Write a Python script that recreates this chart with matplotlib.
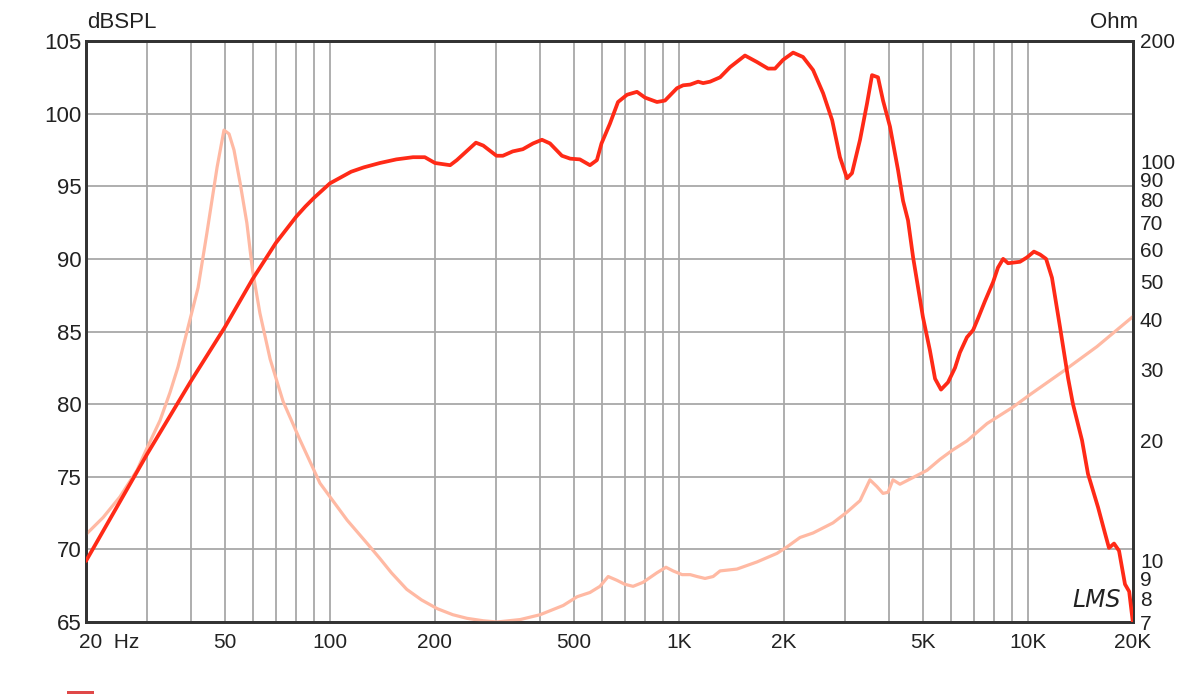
import matplotlib
matplotlib.use('Agg', force=True)
import matplotlib.pyplot as plt
from matplotlib.patches import Rectangle

plt.rcParams['font.family'] = ['Liberation Sans', 'DejaVu Sans']

# SPL response (Hz, dB)
spl_freq = [20, 30, 40, 50, 60, 70, 80, 85, 90, 100, 115, 125, 139, 155, 173, 187, 200, 221,
            231, 262, 275, 300, 313, 334, 357, 382, 405, 427, 462, 488, 520, 556, 582, 600,
            634, 669, 710, 758, 800, 865, 912, 987, 1028, 1077, 1135, 1173, 1228, 1312, 1401,
            1546, 1674, 1800, 1885, 1987, 2124, 2267, 2423, 2589, 2748, 2893, 3031, 3132,
            3303, 3459, 3575, 3718, 3844, 4025, 4245, 4386, 4533, 4688, 5001, 5237, 5418,
            5635, 5901, 6181, 6383, 6686, 6966, 7194, 7534, 7946, 8206, 8490, 8771, 9488,
            9936, 10403, 10833, 11272, 11718, 12357, 13030, 13460, 14290, 14860, 15880, 16630,
            17070, 17650, 18240, 18970, 19500, 20000]
spl_db = [69.2, 76.6, 81.6, 85.3, 88.6, 91.1, 92.9, 93.6, 94.2, 95.2, 96.0, 96.3, 96.6, 96.85,
          97.0, 97.0, 96.6, 96.45, 96.8, 98.0, 97.8, 97.1, 97.1, 97.4, 97.55, 97.95, 98.2,
          97.95, 97.1, 96.9, 96.85, 96.45, 96.8, 97.95, 99.3, 100.8, 101.3, 101.5, 101.1,
          100.8, 100.9, 101.75, 101.95, 102.0, 102.2, 102.1, 102.2, 102.5, 103.2, 104.0,
          103.55, 103.1, 103.1, 103.7, 104.2, 103.9, 103.0, 101.4, 99.55, 97.0, 95.55, 95.9,
          98.2, 100.7, 102.65, 102.5, 100.9, 99.1, 96.1, 94.0, 92.65, 90.1, 86.0, 83.7, 81.75,
          81.0, 81.5, 82.5, 83.55, 84.6, 85.1, 85.9, 87.1, 88.4, 89.4, 90.0, 89.7, 89.8, 90.1,
          90.5, 90.3, 90.0, 88.7, 85.3, 81.8, 80.0, 77.5, 75.2, 72.9, 71.1, 70.1, 70.4, 69.9,
          67.6, 67.1, 64.9]

# impedance (Hz, Ohm)
imp_freq = [20, 22.4, 25.0, 28.0, 30, 32.6, 34.8, 36.7, 39.2, 41.9, 44.4, 47.5, 49.7, 51.4,
            53.1, 55.3, 57.8, 60, 63.0, 67.4, 73.4, 82.1, 93.6, 112, 128, 139, 150, 166, 183,
            203, 225, 247, 275, 301, 351, 400, 466, 511, 556, 594, 627, 665, 700, 739, 789,
            865, 918, 962, 1021, 1077, 1127, 1188, 1253, 1312, 1466, 1674, 1909, 2041, 2223,
            2423, 2762, 3031, 3303, 3525, 3690, 3844, 3973, 4104, 4298, 4808, 5140, 5600,
            6095, 6686, 7636, 9066, 10140, 12590, 15770, 20000]
imp_ohm = [11.6, 12.8, 14.4, 16.8, 19.2, 22.4, 26.3, 30.5, 38.3, 48.2, 66.0, 96.6, 119.6, 117,
           106.6, 88.1, 70, 53.3, 41.6, 31.9, 25.0, 20.0, 15.6, 12.6, 11.0, 10.1, 9.3, 8.45,
           7.95, 7.56, 7.3, 7.15, 7.05, 7.0, 7.1, 7.3, 7.7, 8.1, 8.3, 8.6, 9.1, 8.9, 8.7, 8.6,
           8.8, 9.3, 9.6, 9.4, 9.2, 9.2, 9.1, 9.0, 9.1, 9.4, 9.5, 9.9, 10.4, 10.8, 11.4, 11.7,
           12.4, 13.2, 14.1, 15.9, 15.3, 14.7, 14.8, 15.9, 15.5, 16.3, 16.8, 17.9, 18.9, 19.9,
           22.0, 24.2, 26.0, 29.7, 34.3, 40.8]

x_ticks = [50, 100, 200, 500, 1000, 2000, 5000, 10000, 20000]
x_labels = ['50', '100', '200', '500', '1K', '2K', '5K', '10K', '20K']
x_grid = [30, 40, 50, 60, 70, 80, 90, 100, 200, 300, 400, 500, 600, 700, 800, 900,
          1000, 2000, 3000, 4000, 5000, 6000, 7000, 8000, 9000, 10000]
db_ticks = [65, 70, 75, 80, 85, 90, 95, 100, 105]
ohm_ticks = [7, 8, 9, 10, 20, 30, 40, 50, 60, 70, 80, 90, 100, 200]

text_color = '#222222'
spine_color = '#333333'

fig = plt.figure(figsize=(12.03, 6.94), dpi=100)
ax = fig.add_axes([86 / 1203, 72 / 694, 1047 / 1203, 581 / 694])
ax.set_xscale('log')
ax.set_xlim(20, 20000)
ax.set_ylim(65, 105)
ax.set_yticks(db_ticks)
ax.set_yticklabels([str(v) for v in db_ticks])
ax.set_xticks(x_ticks)
ax.set_xticklabels(x_labels)
ax.xaxis.set_minor_locator(matplotlib.ticker.NullLocator())
for f in x_grid:
    ax.axvline(f, color='#a8a8a8', lw=1.3, zorder=0)
for v in db_ticks[1:-1]:
    ax.axhline(v, color='#a8a8a8', lw=1.3, zorder=0)
ax.tick_params(axis='both', length=0, colors=text_color)
ax.tick_params(axis='y', labelsize=16, pad=3)
ax.tick_params(axis='x', labelsize=15, pad=8)
for s in ax.spines.values():
    s.set_color(spine_color)
    s.set_linewidth(2.0)

ax.annotate('20  Hz', xy=(20, 65), xycoords='data', xytext=(-5, -8), textcoords='offset points',
            ha='left', va='top', fontsize=15, color=text_color, annotation_clip=False)

ax2 = ax.twinx()
ax2.set_yscale('log')
ax2.set_ylim(7, 200)
ax2.set_yticks(ohm_ticks)
ax2.set_yticklabels([str(v) for v in ohm_ticks])
ax2.yaxis.set_minor_locator(matplotlib.ticker.NullLocator())
ax2.tick_params(axis='y', length=0, labelsize=15, pad=5, colors=text_color)
for s in ax2.spines.values():
    s.set_color(spine_color)
    s.set_linewidth(2.0)

ax2.plot(imp_freq, imp_ohm, color='#ffb9a3', lw=2.3, solid_capstyle='round', zorder=2)
# SPL drawn on top using the dB axis scale
ax2.plot(spl_freq, spl_db, color='#ff2a17', lw=2.7, transform=ax.transData,
         solid_capstyle='round', zorder=3)
ax2.set_ylim(7, 200)
ax2.set_xlim(20, 20000)

fig.text(87 / 1203, 1 - 22 / 694, 'dBSPL', fontsize=16, color=text_color, va='center', ha='left')
fig.text(1138 / 1203, 1 - 22 / 694, 'Ohm', fontsize=16, color=text_color, va='center', ha='right')
ax.text(0.988, 0.038, 'LMS', transform=ax.transAxes, fontsize=17, fontstyle='italic',
        family='DejaVu Sans', color=text_color, ha='right', va='center')

fig.patches.append(Rectangle((67 / 1203, 0), 27 / 1203, 3 / 694, transform=fig.transFigure,
                             facecolor='#e04848', edgecolor='none'))

fig.savefig('out.png', dpi=100)
